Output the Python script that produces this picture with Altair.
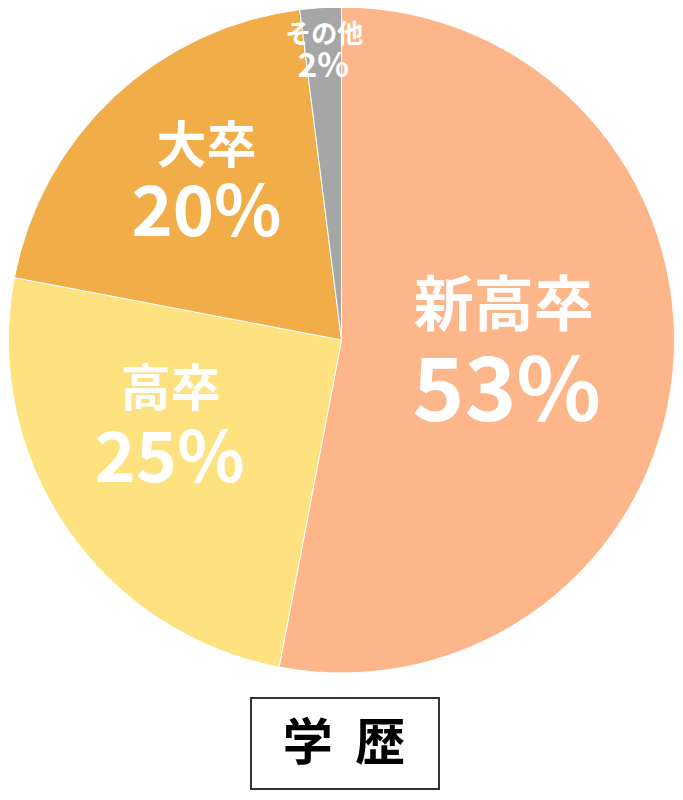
import altair as alt
import pandas as pd

categories = ["新高卒", "高卒", "大卒", "その他"]
values = [53, 25, 20, 2]
pct_labels = ["53%", "25%", "20%", "2%"]
colors = ["#FDB68A", "#FDE27F", "#F0AD48", "#A6A6A6"]
title_text = "学\u00a0\u00a0歴"

df = pd.DataFrame({
    "cat": categories,
    "value": values,
    "pct": pct_labels,
    "idx": list(range(len(categories))),
})

FONT = "Noto Sans CJK JP"

# label styling per category: radius, name (size, dx, dy), pct (size, dx, dy)
label_style = {
    "新高卒": dict(r=163, ns=60, ndx=0, ndy=-47, ps=88, pdx=3, pdy=40),
    "高卒": dict(r=191, ns=50, ndx=-13, ndy=-56, ps=70, pdx=-14, pdy=14),
    "大卒": dict(r=209, ns=50, ndx=8, ndy=-40, ps=70, pdx=8, pdy=27),
    "その他": dict(r=290, ns=26, ndx=1, ndy=-16, ps=33, pdx=0, pdy=16),
}

base = alt.Chart(df)
theta = alt.Theta("value:Q", stack=True)
order = alt.Order("idx:Q")

arcs = base.mark_arc(outerRadius=333, stroke="white", strokeWidth=1).encode(
    theta=theta,
    order=order,
    color=alt.Color("cat:N", scale=alt.Scale(domain=categories, range=colors), legend=None),
)

layers = [arcs]
for cat, st in label_style.items():
    name_layer = base.transform_calculate(
        lab=f"datum.cat == '{cat}' ? datum.cat : ''"
    ).mark_text(
        radius=st["r"], dx=st["ndx"], dy=st["ndy"], fontSize=st["ns"],
        font=FONT, fontWeight="bold", color="white", align="center", baseline="middle",
    ).encode(theta=theta, order=order, text="lab:N")
    pct_layer = base.transform_calculate(
        lab=f"datum.cat == '{cat}' ? datum.pct : ''"
    ).mark_text(
        radius=st["r"], dx=st["pdx"], dy=st["pdy"], fontSize=st["ps"],
        font=FONT, fontWeight="bold", color="white", align="center", baseline="middle",
    ).encode(theta=theta, order=order, text="lab:N")
    layers += [name_layer, pct_layer]

title_df = pd.DataFrame({"t": [title_text]})
box = alt.Chart(title_df).mark_rect(fill="white", stroke="#333333", strokeWidth=2).encode(
    x=alt.value(243), x2=alt.value(431), y=alt.value(685), y2=alt.value(776)
)
box_text = alt.Chart(title_df).mark_text(
    font=FONT, fontWeight="bold", fontSize=50, color="black", align="center", baseline="middle"
).encode(x=alt.value(336), y=alt.value(732), text="t:N")

chart = alt.layer(*layers, box, box_text).properties(
    width=667, height=654,
    autosize=alt.AutoSizeParams(type="none"),
    padding={"left": 0, "top": 5, "right": 0, "bottom": 124},
).configure_view(stroke=None)

chart.save("out.html", embed_options={"renderer": "svg", "actions": False})
